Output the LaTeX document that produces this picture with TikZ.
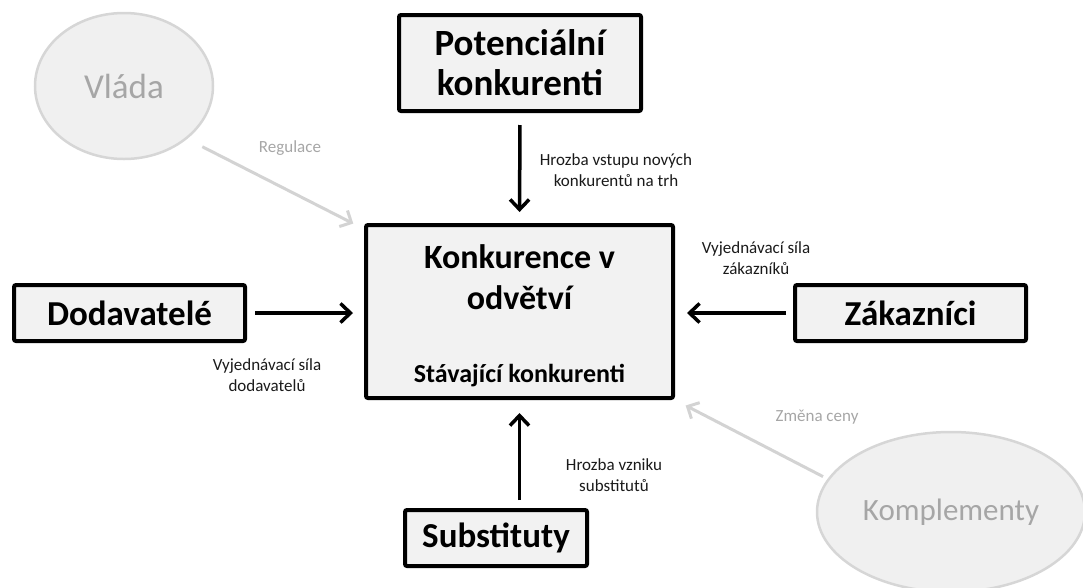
\documentclass[tikz,border=0pt]{standalone}
\usepackage{fontspec}
\setmainfont{Carlito}
\usetikzlibrary{arrows.meta,shapes.geometric}
\definecolor{boxfill}{HTML}{F2F2F2}
\definecolor{ellfill}{HTML}{F0F0F0}
\definecolor{elldraw}{HTML}{D6D6D6}
\definecolor{graytext}{HTML}{A6A6A6}
\definecolor{grayarrow}{HTML}{D3D3D3}
\definecolor{labeltext}{HTML}{1A1A1A}
\tikzset{
  forcebox/.style={draw=black, line width=4pt, rounded corners=2pt, fill=boxfill,
    inner sep=0pt, align=center, font=\fontsize{35}{40}\selectfont\bfseries},
  sidecircle/.style={ellipse, draw=elldraw, line width=2.5pt, fill=ellfill, inner sep=0pt,
    text=graytext},
  blackarrow/.style={line width=3.5pt, draw=black, -{Straight Barb[length=10pt,width=19pt,line width=3.5pt]}},
  grayarr/.style={line width=3pt, draw=grayarrow, -{Straight Barb[length=9pt,width=18pt,line width=3pt]}},
  forcelabel/.style={align=center, text=labeltext, font=\fontsize{17}{21}\selectfont, inner sep=0pt},
  graylabel/.style={align=center, text=graytext, font=\fontsize{17}{21}\selectfont, inner sep=0pt}
}
\begin{document}
\begin{tikzpicture}[x=1pt,y=-1pt]
\useasboundingbox (0,0) rectangle (1083,587);
% boxes
\node[forcebox, minimum width=242pt, minimum height=96pt, font=\fontsize{37}{40}\selectfont\bfseries] (pot) at (520,63) {Potenciální\\konkurenti};
\node[forcebox, minimum width=307pt, minimum height=173pt] (central) at (519.5,311.5) {};
\node[align=center, inner sep=0pt, font=\fontsize{34}{41}\selectfont\bfseries] (ctitle) at (519.5,277) {Konkurence v\\odvětví};
\node[inner sep=0pt, font=\fontsize{26}{30}\selectfont\bfseries] (csub) at (519.5,376) {Stávající konkurenti};
\node[forcebox, minimum width=231pt, minimum height=56pt] (dod) at (129.5,313) {Dodavatelé};
\node[forcebox, minimum width=231pt, minimum height=56pt] (zak) at (910.5,313) {Zákazníci};
\node[forcebox, minimum width=182pt, minimum height=56pt] (sub) at (496,538) {Substituty};
% ellipses
\node[sidecircle, minimum width=178pt, minimum height=146pt, font=\fontsize{35}{40}\selectfont] (vlada) at (124,86) {Vláda};
\node[sidecircle, minimum width=268pt, minimum height=160pt, font=\fontsize{31}{36}\selectfont] (kompl) at (951,512) {Komplementy};
% arrows
\draw[blackarrow, shorten <=12pt, shorten >=11pt] (pot.south) -- (central.north);
\draw[blackarrow, shorten <=8pt, shorten >=11pt] (dod.east) -- (dod.east -| central.west);
\draw[blackarrow, shorten <=7pt, shorten >=12pt] (zak.west) -- (zak.west -| central.east);
\draw[blackarrow, shorten <=8pt, shorten >=13pt] (sub.north -| central.south) -- (central.south);
\draw[grayarr, shorten <=17pt, shorten >=12pt] (vlada.-40) -- ([yshift=-6pt]central.north west);
\draw[grayarr, shorten <=5pt, shorten >=12pt] (kompl.165) -- (central.south east);
% labels
\node[forcelabel] (lpot) at (616,170) {Hrozba vstupu nových\\konkurentů na trh};
\node[forcelabel] (ldod) at (267,375) {Vyjednávací síla\\dodavatelů};
\node[forcelabel] (lzak) at (756,258) {Vyjednávací síla\\zákazníků};
\node[forcelabel] (lsub) at (614,475) {Hrozba vzniku\\substitutů};
\node[graylabel] (lvla) at (290,148) {Regulace};
\node[graylabel] (lkom) at (817,417) {Změna ceny};
\end{tikzpicture}
\end{document}
